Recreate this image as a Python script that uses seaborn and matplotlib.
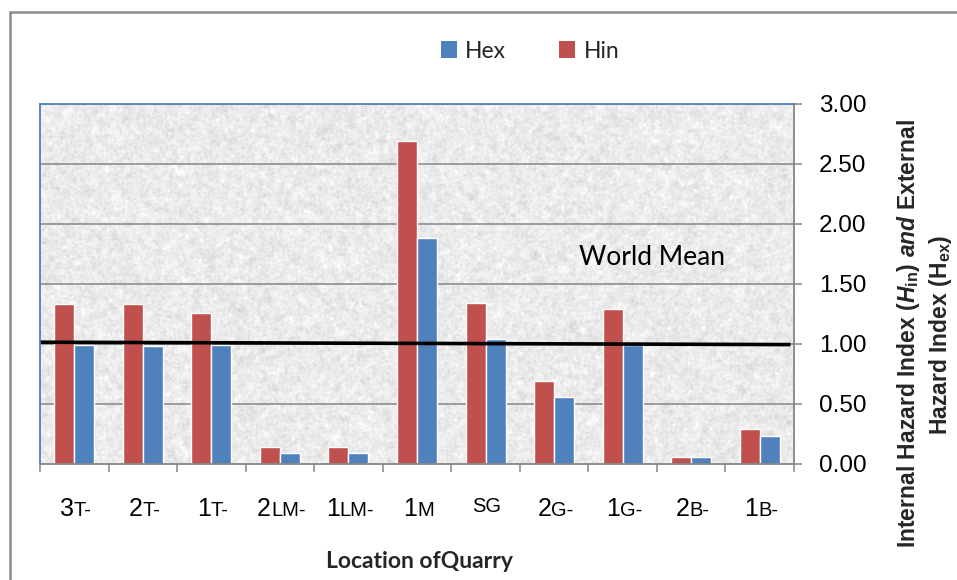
import numpy as np
import pandas as pd
import matplotlib
matplotlib.use("Agg")
import matplotlib.pyplot as plt
import seaborn as sns
from matplotlib.offsetbox import TextArea, HPacker, AnnotationBbox
from matplotlib.patches import Patch
from matplotlib.lines import Line2D

# Hazard indices per quarry location
locations = ["3T-", "2T-", "1T-", "2LM-", "1LM-", "1M", "SG", "2G-", "1G-", "2B-", "1B-"]
hin = [1.33, 1.33, 1.26, 0.14, 0.14, 2.69, 1.34, 0.69, 1.29, 0.06, 0.29]
hex_vals = [0.99, 0.98, 0.99, 0.09, 0.09, 1.88, 1.04, 0.56, 0.99, 0.06, 0.23]
world_mean_ends = [1.015, 0.995]
yticks = [0.0, 0.5, 1.0, 1.5, 2.0, 2.5, 3.0]

RED = "#C0504D"
BLUE = "#4F81BD"
AXIS_GREY = "#868686"

sns.set_theme(style="white")
plt.rcParams["font.family"] = ["Liberation Sans", "DejaVu Sans"]
plt.rcParams["mathtext.fontset"] = "custom"
plt.rcParams["mathtext.rm"] = "Liberation Sans:bold"
plt.rcParams["mathtext.bf"] = "Liberation Sans:bold"
plt.rcParams["mathtext.it"] = "Liberation Sans:italic:bold"

df = pd.DataFrame({
    "Location": locations * 2,
    "value": hin + hex_vals,
    "Index": ["Hin"] * len(locations) + ["Hex"] * len(locations),
})

fig = plt.figure(figsize=(9.57, 5.80), dpi=100)
ax = fig.add_axes([40 / 957, 1 - 464 / 580, 754 / 957, 360 / 580])

sns.barplot(data=df, x="Location", y="value", hue="Index",
            hue_order=["Hin", "Hex"], order=locations,
            palette={"Hin": RED, "Hex": BLUE}, saturation=1,
            width=0.584, gap=0, errorbar=None, legend=False,
            ax=ax, zorder=3)

# mottled stone-like plot background
rng = np.random.default_rng(11)
h, w = 360, 754
field = rng.normal(size=(h, w))

def box_blur(a, r):
    out = np.zeros_like(a)
    n = 0
    for dy in range(-r, r + 1):
        for dx in range(-r, r + 1):
            out += np.roll(np.roll(a, dy, 0), dx, 1)
            n += 1
    return out / n

fine = box_blur(field, 1)
coarse = box_blur(rng.normal(size=(h, w)), 3)
tex = 0.55 * fine / fine.std() + 0.45 * coarse / coarse.std()
tex = 0.92 + 0.033 * tex
tex = np.clip(tex, 0.76, 0.99)
ax.imshow(tex, cmap="gray", vmin=0, vmax=1, extent=(-0.5, 10.5, 0, 3),
          aspect="auto", interpolation="bilinear", zorder=-2)

ax.set_xlim(-0.5, 10.5)
ax.set_ylim(0, 3)

# horizontal gridlines
for yv in yticks[1:-1]:
    ax.axhline(yv, color=AXIS_GREY, lw=1.1, zorder=1)

# world mean reference line
ax.plot([-0.5, 10.45], world_mean_ends, color="black", lw=2.6, zorder=5,
        solid_capstyle="butt")
ax.text(8.43, 1.72, "World Mean", family=["Lato", "DejaVu Sans"], size=19,
        ha="center", va="center", color="black", zorder=6)

# right-hand value axis
ax.yaxis.tick_right()
ax.set_yticks(yticks)
ax.set_yticklabels([f"{v:.2f}" for v in yticks], fontsize=17.5, color="black")
ax.tick_params(axis="y", direction="out", length=6, width=1.1, color=AXIS_GREY,
               pad=12, right=True, left=False)
ax.set_ylabel("")
ax.set_xlabel("")

# category boundary ticks on the x axis
ax.set_xticks(np.arange(-0.5, 11, 1.0))
ax.set_xticklabels([""] * 12)
ax.tick_params(axis="x", direction="out", length=6, width=1.1, color=AXIS_GREY,
               bottom=True)

for side in ["top", "left"]:
    ax.spines[side].set_color("#4A7EBB")
    ax.spines[side].set_linewidth(1.3)
for side in ["right", "bottom"]:
    ax.spines[side].set_color(AXIS_GREY)
    ax.spines[side].set_linewidth(1.3)
for sp in ax.spines.values():
    sp.set_visible(True)
    sp.set_zorder(7)

# category labels: digits large, letters in smaller type
for i, lab in enumerate(locations):
    k = 0
    while k < len(lab) and lab[k].isdigit():
        k += 1
    parts = []
    if k > 0:
        parts.append(TextArea(lab[:k], textprops=dict(size=18, color="black")))
    if k < len(lab):
        parts.append(TextArea(lab[k:], textprops=dict(size=14.5, color="black")))
    pack = HPacker(children=parts, align="baseline", pad=0, sep=0)
    ab = AnnotationBbox(pack, (i, 0), xycoords=ax.get_xaxis_transform(),
                        xybox=(1, -24), boxcoords="offset points",
                        box_alignment=(0.5, 1), frameon=False,
                        annotation_clip=False)
    ax.add_artist(ab)

# axis titles
fig.text(419 / 957, 1 - 561 / 580, "Location ofQuarry", family=["Lato", "DejaVu Sans"],
         weight="bold", size=16.5, ha="center", va="center")
fig.text(909 / 957, 1 - 334 / 580,
         r"Internal Hazard Index $\mathit{(H}_{\mathrm{in}}\mathit{)\ and}$ External",
         rotation=90, weight="bold", size=16.5, ha="center", va="center")
fig.text(941 / 957, 1 - 335 / 580, r"Hazard Index (H$_{\mathrm{ex}}$)",
         rotation=90, weight="bold", size=16.5, ha="center", va="center")

# legend
handles = [Patch(facecolor=BLUE, edgecolor="none", label="Hex"),
           Patch(facecolor=RED, edgecolor="none", label="Hin")]
fig.legend(handles=handles, loc="center", bbox_to_anchor=(530 / 957, 1 - 51 / 580),
           ncol=2, frameon=False, prop={"family": ["Lato", "DejaVu Sans"], "size": 16.5},
           handlelength=0.72, handleheight=0.72, handletextpad=0.35,
           columnspacing=2.3)

# chart frame (left and top edges)
fig.add_artist(Line2D([10 / 957, 10 / 957], [0, 1 - 12 / 580],
                      transform=fig.transFigure, color="#8C8C8C", lw=1.8))
fig.add_artist(Line2D([10 / 957, 1], [1 - 12 / 580, 1 - 12 / 580],
                      transform=fig.transFigure, color="#8C8C8C", lw=1.8))

fig.savefig("out.png", dpi=100, facecolor="white")
